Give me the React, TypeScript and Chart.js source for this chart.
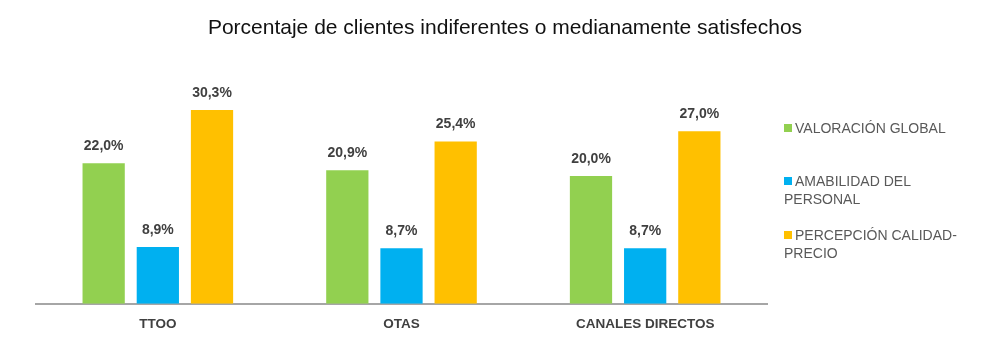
import React, { useEffect, useRef } from "react";
import { Chart, registerables } from "chart.js";

Chart.register(...registerables);

const categories = ["TTOO", "OTAS", "CANALES DIRECTOS"];
const seriesNames = ["VALORACIÓN GLOBAL", "AMABILIDAD DEL PERSONAL", "PERCEPCIÓN CALIDAD-PRECIO"];
const legendLines = [["VALORACIÓN GLOBAL"], ["AMABILIDAD DEL", "PERSONAL"], ["PERCEPCIÓN CALIDAD-", "PRECIO"]];
const valoracionGlobal = [22.0, 20.9, 20.0];
const amabilidadPersonal = [8.9, 8.7, 8.7];
const percepcionCalidadPrecio = [30.3, 25.4, 27.0];
const colors = ["#92D050", "#00B0F0", "#FFC000"];
const titleText = "Porcentaje de clientes indiferentes o medianamente satisfechos";

const FONT = "'Liberation Sans', Arial, sans-serif";

const valueLabels = {
  id: "valueLabels",
  afterDatasetsDraw(chart: any) {
    const ctx = chart.ctx;
    ctx.save();
    ctx.font = `bold 14px ${FONT}`;
    ctx.fillStyle = "#404040";
    ctx.textAlign = "center";
    ctx.textBaseline = "bottom";
    chart.data.datasets.forEach((ds: any, i: number) => {
      const meta = chart.getDatasetMeta(i);
      meta.data.forEach((bar: any, j: number) => {
        const v = ds.data[j] as number;
        const txt = v.toFixed(1).replace(".", ",") + "%";
        ctx.fillText(txt, bar.x, bar.y - 10);
      });
    });
    ctx.restore();
  },
};

export default function App() {
  const ref = useRef<HTMLCanvasElement>(null);
  useEffect(() => {
    document.body.style.margin = "0";
    const chart = new Chart(ref.current!, {
      type: "bar",
      data: {
        labels: categories,
        datasets: [valoracionGlobal, amabilidadPersonal, percepcionCalidadPrecio].map((d, i) => ({
          label: seriesNames[i],
          data: d,
          backgroundColor: colors[i],
          barPercentage: 0.78,
          categoryPercentage: 0.667,
        })),
      },
      options: {
        animation: false,
        responsive: false,
        layout: { padding: { left: 36, right: 241, bottom: 17, top: 80 } },
        plugins: {
          legend: { display: false },
          tooltip: { enabled: false },
          title: { display: false },
        },
        scales: {
          x: {
            grid: { display: false },
            border: { display: true, color: "#A6A6A6", width: 2 },
            ticks: { color: "#404040", font: { family: FONT, size: 13.5, weight: "bold" }, padding: 4 },
          },
          y: { display: false, min: 0, max: 35 },
        },
      },
      plugins: [valueLabels],
    });
    return () => chart.destroy();
  }, []);

  const legendTops = [119, 172, 226];
  return (
    <div style={{ position: "relative", width: 1008, height: 353, background: "#fff" }}>
      <canvas ref={ref} width={1008} height={353} style={{ display: "block" }} />
      <div
        style={{
          position: "absolute",
          left: 0,
          width: 1010,
          top: 14,
          textAlign: "center",
          fontFamily: FONT,
          fontSize: 21,
          lineHeight: "26px",
          color: "#111",
        }}
      >
        {titleText}
      </div>
      {legendLines.map((lines, i) => (
        <div
          key={i}
          style={{
            position: "absolute",
            left: 784,
            top: legendTops[i],
            fontFamily: FONT,
            fontSize: 14,
            lineHeight: "18px",
            color: "#595959",
          }}
        >
          {lines.map((l, k) => (
            <div key={k} style={{ position: "relative", paddingLeft: k === 0 ? 11 : 0 }}>
              {k === 0 && (
                <span
                  style={{
                    position: "absolute",
                    left: 0,
                    top: 5,
                    width: 8,
                    height: 8,
                    background: colors[i],
                  }}
                />
              )}
              {l}
            </div>
          ))}
        </div>
      ))}
    </div>
  );
}
